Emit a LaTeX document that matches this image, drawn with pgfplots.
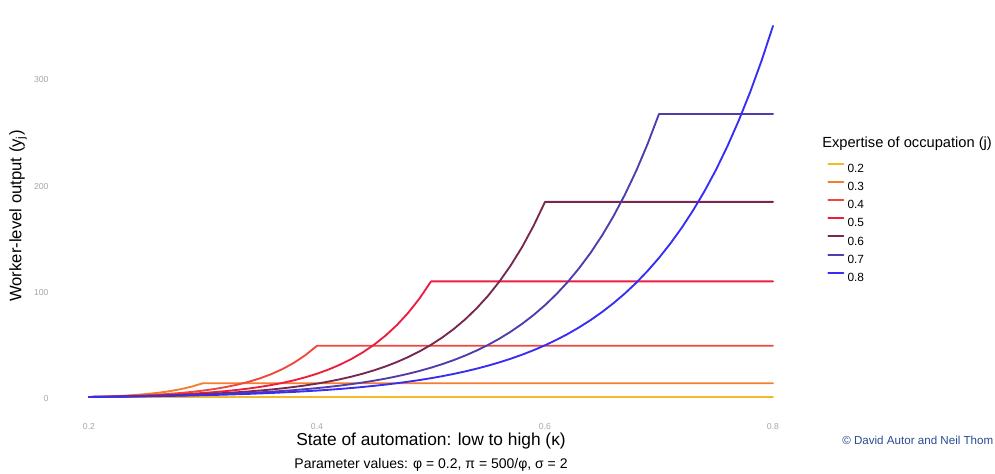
\documentclass[border=0pt]{standalone}
\usepackage{pgfplots}
\pgfplotsset{compat=1.18}
\usepackage{fontspec}
\setmainfont{Liberation Sans}
\definecolor{c2}{RGB}{245,185,40}
\definecolor{c3}{RGB}{245,125,45}
\definecolor{c4}{RGB}{240,70,60}
\definecolor{c5}{RGB}{235,30,65}
\definecolor{c6}{RGB}{120,40,80}
\definecolor{c7}{RGB}{80,60,170}
\definecolor{c8}{RGB}{55,45,245}
\definecolor{copyc}{RGB}{40,75,145}
\begin{document}
\begin{tikzpicture}
\path[use as bounding box] (0pt,0pt) rectangle (746.25pt,355.5pt);
\begin{axis}[
  at={(41.1pt,43.05pt)}, anchor=south west,
  scale only axis, width=564.3pt, height=306.9pt,
  xmin=0.17, xmax=0.83, ymin=-17.5, ymax=368.5,
  axis line style={draw=none}, tick style={draw=none},
  xtick={0.2,0.4,0.6,0.8}, xticklabels={0.2,0.4,0.6,0.8},
  ytick={0,100,200,300}, yticklabels={0,100,200,300},
  /pgf/number format/assume math mode=true,
  ticklabel style={font=\fontsize{6.5}{6.5}\selectfont, text=black!35},
  yticklabel style={xshift=-1.2pt},
  xticklabel style={yshift=-1.8pt},
  clip=false,
  legend style={at={(axis description cs:1.0263,0.6212)}, anchor=north west,
    draw=none, fill=none, font=\fontsize{8.9}{8.9}\selectfont,
    row sep=6.45pt, inner sep=0pt,
    nodes={inner sep=0pt, text height=6.5pt, text depth=0pt}},
  legend cell align=left,
  /tikz/every odd column/.append style={column sep=2.5pt},
  legend image code/.code={\draw[#1, line width=1.5pt] (0pt,3.2pt) -- (11.25pt,3.2pt);},
  every axis plot/.append style={line width=1.4pt, line join=round, line cap=round},
]
\addplot[c2] coordinates {(0.2,1.2) (0.8,1.2)};
\addlegendentry{0.2}
\addplot[c3] coordinates {(0.20,1)(0.21,1.302)(0.22,1.695)(0.23,2.207)(0.24,2.874)(0.25,3.742)(0.26,4.870)(0.27,6.342)(0.28,8.257)(0.29,10.75)(0.30,14)(0.80,14)};
\addlegendentry{0.3}
\addplot[c4] coordinates {(0.20,1)(0.21,1.215)(0.22,1.477)(0.23,1.795)(0.24,2.181)(0.25,2.650)(0.26,3.220)(0.27,3.913)(0.28,4.755)(0.29,5.778)(0.30,7.022)(0.31,8.533)(0.32,10.37)(0.33,12.60)(0.34,15.31)(0.35,18.60)(0.36,22.61)(0.37,27.48)(0.38,33.39)(0.39,40.58)(0.40,49.3)(0.80,49.3)};
\addlegendentry{0.4}
\addplot[c5] coordinates {(0.20,1)(0.21,1.170)(0.22,1.368)(0.23,1.600)(0.24,1.871)(0.25,2.188)(0.26,2.560)(0.27,2.994)(0.28,3.502)(0.29,4.096)(0.30,4.791)(0.31,5.604)(0.32,6.554)(0.33,7.666)(0.34,8.966)(0.35,10.49)(0.36,12.27)(0.37,14.35)(0.38,16.78)(0.39,19.63)(0.40,22.95)(0.41,26.84)(0.42,31.40)(0.43,36.73)(0.44,42.96)(0.45,50.25)(0.46,58.77)(0.47,68.74)(0.48,80.39)(0.49,94.03)(0.50,110)(0.80,110)};
\addlegendentry{0.5}
\addplot[c6] coordinates {(0.20,1)(0.22,1.298)(0.24,1.686)(0.26,2.188)(0.28,2.841)(0.30,3.689)(0.31,4.203)(0.32,4.789)(0.33,5.457)(0.34,6.218)(0.35,7.085)(0.36,8.072)(0.37,9.197)(0.38,10.48)(0.39,11.94)(0.40,13.61)(0.41,15.51)(0.42,17.67)(0.43,20.13)(0.44,22.94)(0.45,26.14)(0.46,29.78)(0.47,33.93)(0.48,38.66)(0.49,44.05)(0.50,50.20)(0.51,57.20)(0.52,65.17)(0.53,74.25)(0.54,84.61)(0.55,96.41)(0.56,109.9)(0.57,125.2)(0.58,142.6)(0.59,162.5)(0.60,185)(0.80,185)};
\addlegendentry{0.6}
\addplot[c7] coordinates {(0.20,1)(0.22,1.251)(0.24,1.564)(0.26,1.956)(0.28,2.446)(0.30,3.059)(0.32,3.826)(0.34,4.785)(0.36,5.984)(0.38,7.484)(0.40,9.360)(0.41,10.47)(0.42,11.71)(0.43,13.10)(0.44,14.64)(0.45,16.37)(0.46,18.31)(0.47,20.48)(0.48,22.90)(0.49,25.61)(0.50,28.64)(0.51,32.03)(0.52,35.82)(0.53,40.06)(0.54,44.80)(0.55,50.10)(0.56,56.02)(0.57,62.65)(0.58,70.06)(0.59,78.35)(0.60,87.61)(0.61,97.97)(0.62,109.6)(0.63,122.6)(0.64,137.0)(0.65,153.2)(0.66,171.4)(0.67,191.7)(0.68,214.3)(0.69,239.7)(0.70,268)(0.80,268)};
\addlegendentry{0.7}
\addplot[c8] coordinates {(0.20,1)(0.22,1.216)(0.24,1.478)(0.26,1.797)(0.28,2.185)(0.30,2.656)(0.32,3.229)(0.34,3.926)(0.36,4.773)(0.38,5.802)(0.40,7.054)(0.41,7.778)(0.42,8.576)(0.43,9.456)(0.44,10.43)(0.45,11.50)(0.46,12.68)(0.47,13.98)(0.48,15.41)(0.49,16.99)(0.50,18.73)(0.51,20.65)(0.52,22.78)(0.53,25.12)(0.54,27.69)(0.55,30.53)(0.56,33.67)(0.57,37.12)(0.58,40.93)(0.59,45.13)(0.60,49.76)(0.61,54.87)(0.62,60.49)(0.63,66.70)(0.64,73.55)(0.65,81.10)(0.66,89.42)(0.67,98.59)(0.68,108.7)(0.69,119.9)(0.70,132.2)(0.71,145.8)(0.72,160.7)(0.73,177.2)(0.74,195.3)(0.75,215.3)(0.76,237.5)(0.77,261.9)(0.78,288.7)(0.79,318.3)(0.80,351)};
\addlegendentry{0.8}
\end{axis}
\node[font=\fontsize{13}{13}\selectfont] at (323.25pt,24.75pt) {State of automation: low to high (κ)};
\node[font=\fontsize{10.5}{10.5}\selectfont] at (323.25pt,6.75pt) {Parameter values: φ = 0.2, π = 500/φ, σ = 2};
\node[font=\fontsize{12.5}{12.5}\selectfont, rotate=90] at (13.5pt,193.5pt) {Worker-level output (y\textsubscript{j})};
\node[font=\fontsize{11}{11}\selectfont, anchor=west, inner sep=0pt] at (616.5pt,247.5pt) {Expertise of occupation (j)};
\node[font=\fontsize{8.7}{8.7}\selectfont, anchor=west, inner sep=0pt, text=copyc] at (631.5pt,25.5pt) {© David Autor and Neil Thom};
\end{tikzpicture}
\end{document}
